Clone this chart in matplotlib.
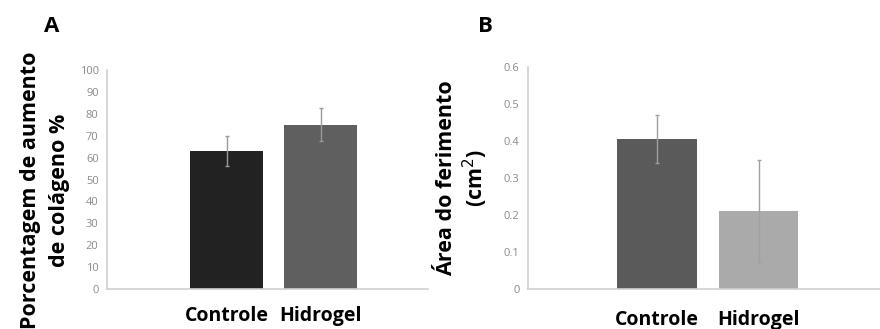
import matplotlib.pyplot as plt

grupos = ["Controle", "Hidrogel"]

colageno = [63, 75]
colageno_err = [7, 7.5]

area = [0.405, 0.21]
area_err = [0.065, 0.14]

plt.rcParams['font.family'] = ['Open Sans', 'DejaVu Sans']

fig = plt.figure(figsize=(8.8, 3.29), dpi=100)

def estilo(ax):
        for s in ['top', 'right']:
                ax.spines[s].set_visible(False)
        for s in ['left', 'bottom']:
                ax.spines[s].set_color('#d0d0d0')
                ax.spines[s].set_linewidth(1.2)
        ax.tick_params(axis='y', length=0, labelsize=8, labelcolor='#8a8a8a', pad=6)
        ax.tick_params(axis='x', length=0, labelsize=14, pad=12)
        for t in ax.get_xticklabels():
                t.set_fontweight('bold')

# painel A
axA = fig.add_axes([107/880, 1-289/329, 321/880, 219/329])
axA.bar([0, 1], colageno, width=0.78, color=['#222222', '#5f5f5f'],
        yerr=colageno_err, error_kw=dict(ecolor='#9a9a9a', elinewidth=1, capsize=1.5, capthick=1))
axA.set_ylim(0, 100)
axA.set_yticks(range(0, 101, 10))
axA.set_xlim(-1.27, 2.14)
axA.set_xticks([0, 1])
axA.set_xticklabels(grupos)
estilo(axA)
axA.set_ylabel("Porcentagem de aumento\nde colágeno %", fontsize=15.5, fontweight='bold',
               linespacing=1.5)
axA.yaxis.set_label_coords(-0.115, 0.45)
fig.text(52/880, 1-27/329, "A", fontsize=16, fontweight='bold', ha='center', va='center')

# painel B
axB = fig.add_axes([528/880, 1-289/329, 352/880, 222/329])
axB.bar([0, 1], area, width=0.78, color=['#5a5a5a', '#aaaaaa'],
        yerr=area_err, error_kw=dict(ecolor='#a0a0a0', elinewidth=1, capsize=1.5, capthick=1))
axB.set_ylim(0, 0.6)
axB.set_yticks([0, 0.1, 0.2, 0.3, 0.4, 0.5, 0.6])
axB.set_yticklabels(["0", "0.1", "0.2", "0.3", "0.4", "0.5", "0.6"])
axB.set_xlim(-1.265, 2.19)
axB.set_xticks([0, 1])
axB.set_xticklabels(grupos)
estilo(axB)
axB.tick_params(axis='x', pad=15)
axB.set_ylabel("Área do ferimento\n(cm$^2$)", fontsize=15.5, fontweight='bold',
               linespacing=1.15, labelpad=10)
fig.text(485/880, 1-27/329, "B", fontsize=16, fontweight='bold', ha='center', va='center')

fig.savefig("out.png", dpi=100)
